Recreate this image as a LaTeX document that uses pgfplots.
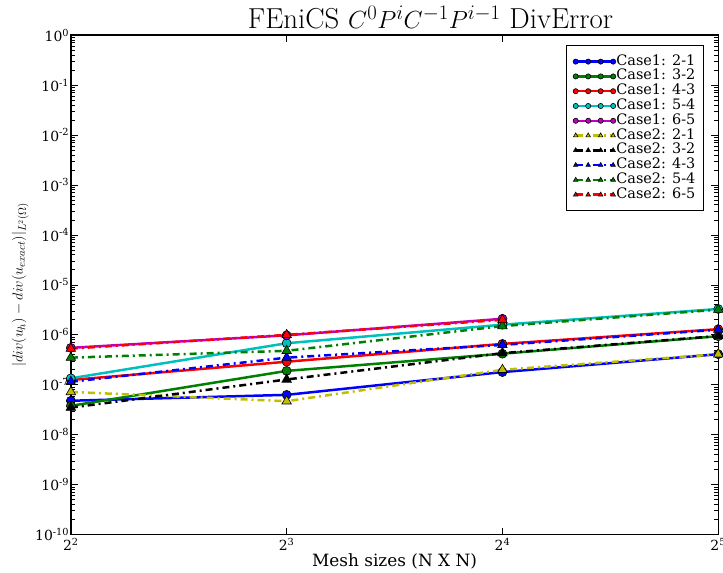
\documentclass[border=0pt]{standalone}
\usepackage{pgfplots}
\pgfplotsset{compat=1.18}
\usepackage{fontspec}
\newfontfamily\djs{DejaVu Serif}

% matplotlib classic colours
\definecolor{mb}{rgb}{0,0,1}
\definecolor{mg}{rgb}{0,0.5,0}
\definecolor{mr}{rgb}{1,0,0}
\definecolor{mc}{rgb}{0,0.75,0.75}
\definecolor{mm}{rgb}{0.75,0,0.75}
\definecolor{my}{rgb}{0.75,0.75,0}

\pgfplotsset{
  caseone/.style={solid, line width=2.5bp, color=#1, mark=*, mark size=4.5bp,
    mark options={solid, fill=#1, draw=black, line width=0.6bp}},
  casetwo/.style={line width=2.5bp, color=#1, dash pattern=on 7bp off 4bp on 2bp off 4bp,
    mark=triangle*, mark size=5.5bp,
    mark options={solid, fill=#1, draw=black, line width=0.6bp}},
}

\begin{document}
\begin{tikzpicture}
\begin{axis}[
  scale only axis,
  width=648bp, height=500bp,
  xmode=log, ymode=log, log basis x=2,
  xmin=4, xmax=32, ymin=1e-10, ymax=1,
  xtick={4,8,16,32},
  xticklabels={2\textsuperscript{2},2\textsuperscript{3},2\textsuperscript{4},2\textsuperscript{5}},
  xticklabel style={overlay, font=\fontsize{14}{16}\selectfont\djs},
  ytick={1e-10,1e-9,1e-8,1e-7,1e-6,1e-5,1e-4,1e-3,1e-2,1e-1,1},
  yticklabels={10\textsuperscript{-10},10\textsuperscript{-9},10\textsuperscript{-8},10\textsuperscript{-7},10\textsuperscript{-6},10\textsuperscript{-5},10\textsuperscript{-4},10\textsuperscript{-3},10\textsuperscript{-2},10\textsuperscript{-1},10\textsuperscript{0}},
  yticklabel style={font=\fontsize{14}{16}\selectfont\djs, inner sep=1.5bp},
  axis line style={line width=1.5bp},
  major tick length=7bp, minor tick length=4bp,
  tick style={black, line width=0.8bp},
  title={FEniCS $C^0P^iC^{-1}P^{i-1}$ DivError},
  title style={font=\fontsize{29}{33}\selectfont, inner ysep=6bp, yshift=-6bp, xshift=36bp},
  xlabel={Mesh sizes (N X N)},
  xlabel style={font=\fontsize{17}{19}\selectfont\djs, yshift=4bp},
  ylabel={$|div(u_h) - div(u_{exact})|_{L^2(\Omega)}$},
  every axis y label/.style={at={(axis description cs:-0.078,0.5)}, rotate=90, anchor=center,
    font=\fontsize{15}{17}\selectfont, inner ysep=12bp},
  legend cell align=left,
  legend style={at={(0.977,0.98)}, anchor=north east, draw=black, line width=0.8bp,
    font=\fontsize{14.5}{15}\selectfont\djs, inner xsep=7bp, inner ysep=9bp,
    nodes={inner sep=0.6bp, text height=10bp, text depth=3bp}, row sep=0.6bp},
  legend image code/.code={\draw[#1, mark size=2.6bp] plot coordinates {(0bp,0bp) (12.5bp,0bp) (25bp,0bp) (37.5bp,0bp)};},
]
\addplot[caseone=mb] coordinates {(4,4.8e-8) (8,6.3e-8) (16,1.8e-7) (32,4.1e-7)};
\addplot[caseone=mg] coordinates {(4,3.8e-8) (8,1.9e-7) (16,4.2e-7) (32,9.4e-7)};
\addplot[caseone=mr] coordinates {(4,1.25e-7) (8,2.9e-7) (16,6.6e-7) (32,1.3e-6)};
\addplot[caseone=mc] coordinates {(4,1.35e-7) (8,6.8e-7) (16,1.6e-6) (32,3.3e-6)};
\addplot[caseone=mm] coordinates {(4,5.5e-7) (8,9.8e-7) (16,2.1e-6)};
\addplot[casetwo=my] coordinates {(4,7.2e-8) (8,4.7e-8) (16,2.0e-7) (32,4.1e-7)};
\addplot[casetwo=black] coordinates {(4,3.5e-8) (8,1.28e-7) (16,4.3e-7) (32,9.5e-7)};
\addplot[casetwo=mb] coordinates {(4,1.15e-7) (8,3.5e-7) (16,6.3e-7) (32,1.27e-6)};
\addplot[casetwo=mg] coordinates {(4,3.5e-7) (8,4.8e-7) (16,1.5e-6) (32,3.2e-6)};
\addplot[casetwo=mr] coordinates {(4,5.3e-7) (8,1.0e-6) (16,2.0e-6)};
\legend{Case1: 2-1,Case1: 3-2,Case1: 4-3,Case1: 5-4,Case1: 6-5,Case2: 2-1,Case2: 3-2,Case2: 4-3,Case2: 5-4,Case2: 6-5}
\end{axis}
\end{tikzpicture}
\end{document}
